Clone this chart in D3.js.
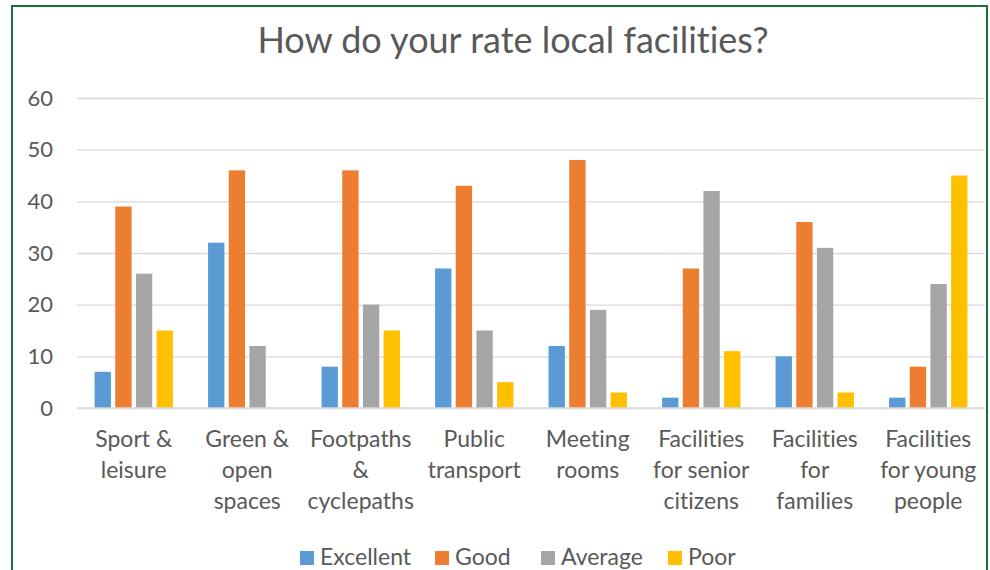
<!DOCTYPE html>
<html>
<head>
<meta charset="utf-8">
<script src="https://cdn.jsdelivr.net/npm/d3@7"></script>
<style>
  body { margin: 0; background: #fff; }
  text { font-family: Lato, "Open Sans", sans-serif; fill: #595959; font-variant-ligatures: none; }
</style>
</head>
<body>
<div id="chart"></div>
<script>
// data
var categories = [
  ["Sport &", "leisure"],
  ["Green &", "open", "spaces"],
  ["Footpaths", "&", "cyclepaths"],
  ["Public", "transport"],
  ["Meeting", "rooms"],
  ["Facilities", "for senior", "citizens"],
  ["Facilities", "for", "families"],
  ["Facilities", "for young", "people"]
];
var seriesNames = ["Excellent", "Good", "Average", "Poor"];
var excellent = [7, 32, 8, 27, 12, 2, 10, 2];
var good = [39, 46, 46, 43, 48, 27, 36, 8];
var average = [26, 12, 20, 15, 19, 42, 31, 24];
var poor = [15, 0, 15, 5, 3, 11, 3, 45];
var yTicks = [0, 10, 20, 30, 40, 50, 60];
var colors = ["#5b9bd5", "#ed7d31", "#a5a5a5", "#ffc000"];

var svgWidth = 990, svgHeight = 570;
var plot = { left: 77, right: 985, top: 98, bottom: 408 };

var svg = d3.select("#chart").append("svg")
  .attr("width", svgWidth)
  .attr("height", svgHeight);

// outer chart border (bottom edge falls outside the picture)
svg.append("rect")
  .attr("x", 12).attr("y", 6)
  .attr("width", 975).attr("height", 620)
  .attr("fill", "none")
  .attr("stroke", "#1b6e3a")
  .attr("stroke-width", 2);

// title
svg.append("text")
  .attr("x", 513).attr("y", 53)
  .attr("text-anchor", "middle")
  .style("font-size", "36px")
  .text("How do your rate local facilities?");

// scales
var x0 = d3.scaleBand()
  .domain(d3.range(categories.length))
  .range([plot.left, plot.right]);

var x1 = d3.scaleBand()
  .domain(seriesNames)
  .range([0, x0.bandwidth()])
  .paddingInner(0.21)
  .paddingOuter(0.85);

var y = d3.scaleLinear()
  .domain([0, 60])
  .range([plot.bottom, plot.top]);

// gridlines + y labels
var yAxis = d3.axisLeft(y)
  .tickValues(yTicks)
  .tickSize(-(plot.right - plot.left))
  .tickPadding(24);

var yG = svg.append("g")
  .attr("transform", "translate(" + plot.left + ",0)")
  .call(yAxis);
yG.select(".domain").remove();
yG.selectAll("line").attr("stroke", "#d9d9d9").attr("stroke-width", 1.3);
yG.selectAll("text")
  .style("font-size", "22px")
  .style("font-family", "Lato, sans-serif")
  .attr("fill", "#595959");

// bars
var table = categories.map(function(c, i) {
  return [excellent[i], good[i], average[i], poor[i]];
});

var groups = svg.selectAll(".cat")
  .data(table)
  .enter().append("g")
  .attr("class", "cat")
  .attr("transform", function(d, i) { return "translate(" + x0(i) + ",0)"; });

groups.selectAll("rect")
  .data(function(d) { return d.map(function(v, j) { return { key: seriesNames[j], value: v, j: j }; }); })
  .enter().append("rect")
  .filter(function(d) { return d.value > 0; })
  .attr("x", function(d) { return x1(d.key); })
  .attr("y", function(d) { return y(d.value); })
  .attr("width", x1.bandwidth())
  .attr("height", function(d) { return y(0) - y(d.value); })
  .attr("fill", function(d) { return colors[d.j]; });

// redraw the zero line over the bars
svg.append("line")
  .attr("x1", plot.left).attr("x2", plot.right)
  .attr("y1", y(0)).attr("y2", y(0))
  .attr("stroke", "#d9d9d9").attr("stroke-width", 1.5);

// category labels
var labels = svg.selectAll(".catLabel")
  .data(categories)
  .enter().append("text")
  .attr("class", "catLabel")
  .attr("text-anchor", "middle")
  .style("font-size", "23px");

labels.selectAll("tspan")
  .data(function(d, i) { return d.map(function(line) { return { line: line, i: i }; }); })
  .enter().append("tspan")
  .attr("x", function(d) { return x0(d.i) + x0.bandwidth() / 2; })
  .attr("y", function(d, k) { return 447 + k * 31; })
  .text(function(d) { return d.line; });

// legend
var legendX = [300, 435, 541, 668];
var legend = svg.selectAll(".legend")
  .data(seriesNames)
  .enter().append("g")
  .attr("class", "legend")
  .attr("transform", function(d, i) { return "translate(" + legendX[i] + ",551)"; });

legend.append("rect")
  .attr("width", 14).attr("height", 14)
  .attr("fill", function(d, i) { return colors[i]; });

legend.append("text")
  .attr("x", 20).attr("y", 14)
  .style("font-size", "23px")
  .text(function(d) { return d; });
</script>
</body>
</html>
